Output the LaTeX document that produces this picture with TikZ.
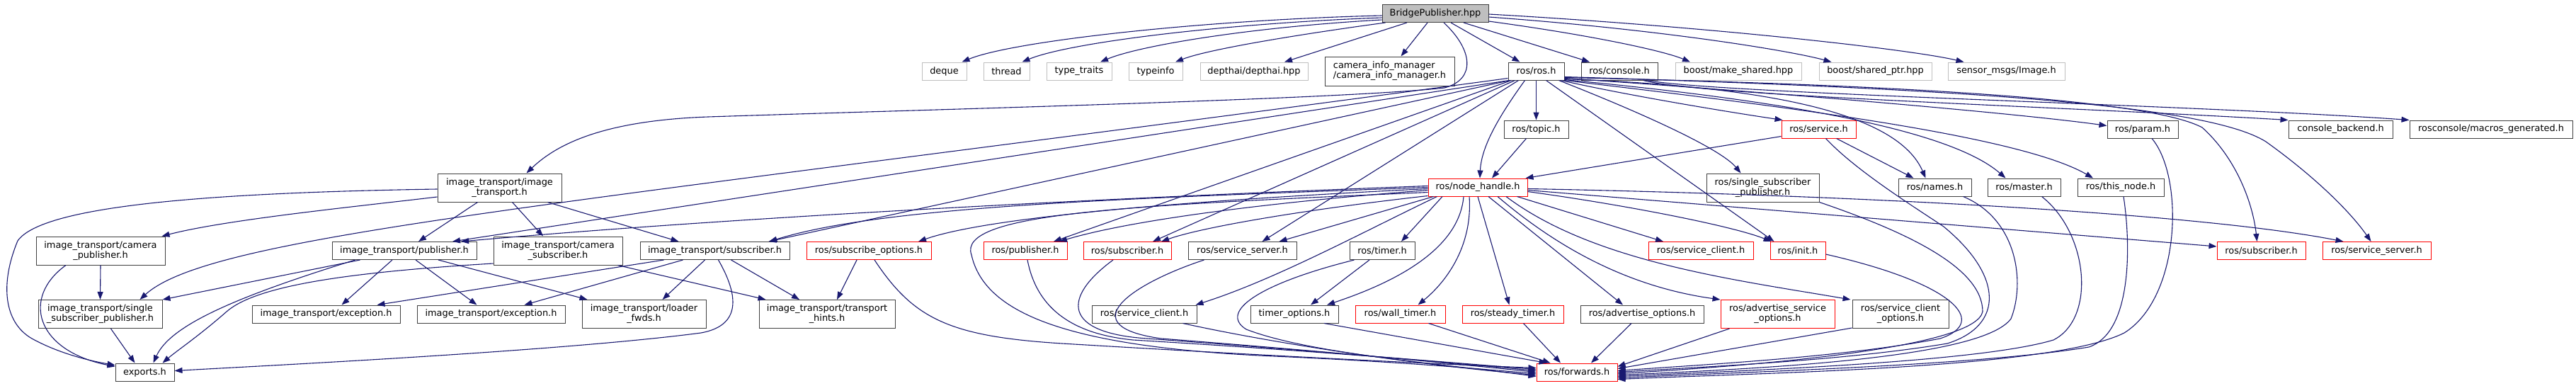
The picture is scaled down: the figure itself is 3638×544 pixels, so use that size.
\documentclass[tikz,border=0pt]{standalone}
\usepackage{fontspec}
\setmainfont{DejaVu Sans}
\usetikzlibrary{arrows.meta,calc}
\definecolor{edgeblue}{HTML}{191970}
\definecolor{boxgrey}{HTML}{BFBFBF}
\definecolor{boxdark}{HTML}{404040}
\tikzset{
  nb/.style={draw=boxdark, line width=1pt, fill=white, inner sep=0pt, minimum height=25pt,
             font=\fontsize{12.9pt}{14pt}\selectfont, align=center, text=black},
  nbtwo/.style={minimum height=40pt},
  nbg/.style={draw=boxgrey},
  nbr/.style={draw=red},
  edg/.style={draw=edgeblue, line width=1.1pt, -{Triangle[length=11pt,width=8pt]}},
}
\begin{document}
\begin{tikzpicture}[x=1pt,y=-1pt]
\useasboundingbox (0,0) rectangle (3638,544);
% row 0
\node[nb,fill=boxgrey,minimum width=150pt] (bp) at (2027,19) {BridgePublisher.hpp};
% row 1
\node[nb,nbg,minimum width=63pt] (deque) at (1333.5,100.5) {deque};
\node[nb,nbg,minimum width=65pt] (thread) at (1421.5,100.5) {thread};
\node[nb,nbg,minimum width=92pt] (ttraits) at (1524,100.5) {type\_traits};
\node[nb,nbg,minimum width=76pt] (tinfo) at (1632,100.5) {typeinfo};
\node[nb,nbg,minimum width=152pt] (depthai) at (1771,100.5) {depthai/depthai.hpp};
\node[nb,minimum width=183pt,minimum height=41pt,align=left] (cim) at (1962.5,100.5) {camera\_info\_manager\\/camera\_info\_manager.h};
\node[nb,minimum width=79pt] (rosh) at (2169.5,100.5) {ros/ros.h};
\node[nb,minimum width=108pt] (console) at (2287,100.5) {ros/console.h};
\node[nb,nbg,minimum width=178pt] (mkshared) at (2455,100.5) {boost/make\_shared.hpp};
\node[nb,nbg,minimum width=159pt] (shptr) at (2648.5,100.5) {boost/shared\_ptr.hpp};
\node[nb,nbg,minimum width=165pt] (sensor) at (2833.5,100.5) {sensor\_msgs/Image.h};
% row 2
\node[nb,minimum width=91pt] (topic) at (2169.5,182.5) {ros/topic.h};
\node[nb,nbr,minimum width=105pt] (service) at (2568.5,182.5) {ros/service.h};
\node[nb,minimum width=100pt] (param) at (3026,182.5) {ros/param.h};
\node[nb,minimum width=147pt] (cbackend) at (3305.5,182.5) {console\_backend.h};
\node[nb,minimum width=230pt] (macros) at (3518,182.5) {rosconsole/macros\_generated.h};
% row 3
\node[nb,nbtwo,minimum width=175pt] (it) at (705.5,265) {image\_transport/image\\\_transport.h};
\node[nb,nbr,minimum width=140pt] (nh) at (2087,264.5) {ros/node\_handle.h};
\node[nb,nbtwo,minimum width=159pt] (rssp) at (2489.5,265) {ros/single\_subscriber\\\_publisher.h};
\node[nb,minimum width=103pt] (names) at (2732.5,264.5) {ros/names.h};
\node[nb,minimum width=103pt] (master) at (2858.5,264.5) {ros/master.h};
\node[nb,minimum width=122pt] (thisnode) at (2995,264.5) {ros/this\_node.h};
% row 4
\node[nb,nbtwo,minimum width=182pt] (campub) at (142,354) {image\_transport/camera\\\_publisher.h};
\node[nb,minimum width=204pt] (itpub) at (571,354) {image\_transport/publisher.h};
\node[nb,nbtwo,minimum width=182pt] (camsub) at (788,354) {image\_transport/camera\\\_subscriber.h};
\node[nb,minimum width=211pt] (itsub) at (1009.5,354) {image\_transport/subscriber.h};
\node[nb,nbr,minimum width=176pt] (subopt) at (1227,354) {ros/subscribe\_options.h};
\node[nb,nbr,minimum width=118pt] (rpub) at (1448,354) {ros/publisher.h};
\node[nb,nbr,minimum width=124pt] (subl) at (1592,354) {ros/subscriber.h};
\node[nb,minimum width=153pt] (ssl) at (1754.5,354) {ros/service\_server.h};
\node[nb,minimum width=92pt] (timer) at (1952,354) {ros/timer.h};
\node[nb,nbr,minimum width=148pt] (scr) at (2402,354) {ros/service\_client.h};
\node[nb,nbr,minimum width=78pt] (init) at (2539,354) {ros/init.h};
\node[nb,nbr,minimum width=125pt] (subr) at (3193.5,354) {ros/subscriber.h};
\node[nb,nbr,minimum width=153pt] (ssr) at (3356.5,354) {ros/service\_server.h};
% row 5
\node[nb,nbtwo,minimum width=175pt] (itssp) at (141.5,443.5) {image\_transport/single\\\_subscriber\_publisher.h};
\node[nb,minimum width=209pt] (exc1) at (460.5,443.5) {image\_transport/exception.h};
\node[nb,minimum width=209pt] (exc2) at (693.5,443.5) {image\_transport/exception.h};
\node[nb,nbtwo,minimum width=175pt] (loader) at (909.5,443.5) {image\_transport/loader\\\_fwds.h};
\node[nb,nbtwo,minimum width=192pt] (hints) at (1168,443.5) {image\_transport/transport\\\_hints.h};
\node[nb,minimum width=148pt] (scl) at (1616,443.5) {ros/service\_client.h};
\node[nb,minimum width=124pt] (topt) at (1828,443.5) {timer\_options.h};
\node[nb,nbr,minimum width=127pt] (wall) at (1977.5,443.5) {ros/wall\_timer.h};
\node[nb,nbr,minimum width=143pt] (steady) at (2136.5,443.5) {ros/steady\_timer.h};
\node[nb,minimum width=174pt] (advopt) at (2319,443.5) {ros/advertise\_options.h};
\node[nb,nbr,nbtwo,minimum width=161pt] (advsopt) at (2510.5,443.5) {ros/advertise\_service\\\_options.h};
\node[nb,nbtwo,minimum width=136pt] (scopt) at (2684,443.5) {ros/service\_client\\\_options.h};
% row 6
\node[nb,minimum width=83pt] (exports) at (204.5,525.5) {exports.h};
\node[nb,nbr,minimum width=114pt] (forwards) at (2227,525.5) {ros/forwards.h};

% ---------- edges from BridgePublisher.hpp
\draw[edg] ($(bp.west)+(0,3)$) .. controls (1700,28) and (1430,58) .. ($(deque.north)+(25,0)$);
\draw[edg] ($(bp.west)+(0,6)$) .. controls (1730,33) and (1510,60) .. ($(thread.north)+(22,0)$);
\draw[edg] ($(bp.west)+(0,9)$) .. controls (1770,38) and (1610,64) .. ($(ttraits.north)+(30,0)$);
\draw[edg] ($(bp.south west)+(5,0)$) .. controls (1860,45) and (1710,68) .. ($(tinfo.north)+(28,0)$);
\draw[edg] ($(bp.south)+(-40,0)$) -- ($(depthai.north)+(43,0)$);
\draw[edg] ($(bp.south)+(-11,0)$) -- ($(cim.north)+(16,0)$);
\draw[edg] ($(bp.south)+(12,0)$) .. controls (2080,70) and (2085,112) .. (2040,124) .. controls (1900,140) and (1300,155) .. (1000,165) .. controls (860,170) and (790,200) .. ($(it.north)+(38,0)$);
\draw[edg] ($(bp.south)+(22,0)$) -- ($(rosh.north)+(-23,0)$);
\draw[edg] ($(bp.south)+(40,0)$) -- ($(console.north)+(-42,0)$);
\draw[edg] ($(bp.south east)+(0,-2)$) .. controls (2250,50) and (2350,72) .. ($(mkshared.north)+(-68,0)$);
\draw[edg] ($(bp.east)+(0,5)$) .. controls (2350,42) and (2530,72) .. ($(shptr.north)+(-62,0)$);
\draw[edg] ($(bp.east)+(0,1)$) .. controls (2420,38) and (2700,70) .. ($(sensor.north)+(-60,0)$);
% ---------- edges from ros/ros.h
\draw[edg] (rosh.south) -- (topic.north);
\draw[edg] ($(rosh.south)+(-16,0)$) .. controls (2120,160) and (2092,205) .. ($(nh.north)+(3,0)$);
\draw[edg] ($(topic.south)+(-14,0)$) -- ($(nh.north)+(20,0)$);
\draw[edg] ($(service.west)+(0,10)$) -- ($(nh.north east)+(-3,0)$);
\draw[edg] ($(rosh.south east)+(-5,0)$) .. controls (2300,135) and (2440,158) .. ($(service.north west)+(2,0)$);
\draw[edg] ($(rosh.south east)+(-8,0)$) .. controls (2320,160) and (2430,210) .. ($(rssp.north)+(-31,0)$);
\draw[edg] ($(rosh.south east)+(0,-2)$) .. controls (2500,122) and (2680,160) .. ($(names.north)+(-13,0)$);
\draw[edg] ($(service.south)+(25,0)$) -- ($(names.north)+(-30,0)$);
\draw[edg] ($(rosh.south east)+(0,-1)$) .. controls (2500,140) and (2750,180) .. ($(master.north)+(-26,0)$);
\draw[edg] (rosh.south east) .. controls (2500,148) and (2850,190) .. ($(thisnode.north)+(-39,0)$);
\draw[edg] ($(rosh.south east)+(0,-3)$) .. controls (2500,130) and (2850,160) .. ($(param.west)+(0,-5)$);
\draw[edg] ($(rosh.south east)+(0,-4)$) .. controls (2800,122) and (3050,148) .. (3110,180) .. controls (3160,225) and (3182,290) .. ($(subr.north)+(-6,0)$);
\draw[edg] ($(rosh.south east)+(0,-5)$) .. controls (2800,126) and (3120,150) .. (3200,200) .. controls (3270,250) and (3320,300) .. ($(ssr.north)+(-8,0)$);
\draw[edg] ($(console.south)+(34,0)$) .. controls (2400,135) and (2900,150) .. (cbackend.north west);
\draw[edg] ($(console.south)+(40,0)$) .. controls (2420,132) and (3100,148) .. (macros.north west);
\draw[edg] ($(rosh.south)+(14,0)$) -- ($(init.north west)+(6,0)$);
\draw[edg] ($(rosh.south west)+(5,0)$) -- ($(rpub.north)+(40,0)$);
\draw[edg] ($(rosh.south west)+(10,0)$) -- ($(subl.north)+(36,0)$);
\draw[edg] ($(rosh.south west)+(15,0)$) -- ($(ssl.north)+(28,0)$);
\draw[edg] ($(rosh.south west)+(0,-3)$) .. controls (800,290) and (300,330) .. ($(itssp.north)+(56,0)$);
\draw[edg] ($(rosh.south west)+(2,0)$) -- ($(itpub.north)+(68,0)$);
\draw[edg] ($(rosh.south west)+(3,0)$) -- ($(itsub.north)+(76,0)$);
% ---------- image_transport
\draw[edg] ($(it.west)+(0,13)$) .. controls (500,292) and (320,310) .. ($(campub.north east)+(-5,0)$);
\draw[edg] ($(it.south)+(-31,0)$) -- ($(itpub.north)+(20,0)$);
\draw[edg] ($(it.south)+(18,0)$) -- ($(camsub.north)+(-21,0)$);
\draw[edg] ($(it.south)+(68,0)$) -- ($(itsub.north)+(-51,0)$);
\draw[edg] ($(it.west)+(0,2)$) .. controls (300,272) and (60,290) .. (25,340) .. controls (0,400) and (5,455) .. (45,478) .. controls (85,500) and (130,510) .. ($(exports.north west)+(0,3)$);
\draw[edg] (campub.south) -- (itssp.north);
\draw[edg] ($(campub.south)+(-49,0)$) .. controls (30,420) and (50,495) .. ($(exports.north west)+(0,5)$);
\draw[edg] ($(itssp.south)+(15,0)$) -- ($(exports.north)+(-14,0)$);
\draw[edg] ($(itpub.south west)+(40,0)$) -- (itssp.north east);
\draw[edg] ($(itpub.south west)+(33,0)$) .. controls (330,420) and (240,460) .. ($(exports.north)+(12,0)$);
\draw[edg] ($(itpub.south)+(-17,0)$) -- ($(exc1.north)+(22,0)$);
\draw[edg] ($(itpub.south)+(16,0)$) -- ($(exc2.north)+(-20,0)$);
\draw[edg] ($(itpub.south)+(48,0)$) -- ($(loader.north)+(-80,0)$);
\draw[edg] ($(camsub.west)+(0,18)$) .. controls (480,385) and (360,405) .. (320,440) .. controls (280,475) and (250,495) .. ($(exports.north)+(25,0)$);
\draw[edg] ($(camsub.south east)+(-7,0)$) -- ($(hints.north west)+(10,0)$);
\draw[edg] ($(itsub.south west)+(34,0)$) -- ($(exc1.north)+(72,0)$);
\draw[edg] ($(itsub.south)+(-45,0)$) -- ($(exc2.north)+(47,0)$);
\draw[edg] ($(itsub.south)+(-14,0)$) -- ($(loader.north)+(26,0)$);
\draw[edg] ($(itsub.south)+(23,0)$) -- ($(hints.north)+(-39,0)$);
\draw[edg] ($(itsub.south)+(5,0)$) .. controls (1045,420) and (1045,460) .. (990,470) .. controls (800,495) and (400,515) .. ($(exports.east)+(0,-2)$);
\draw[edg] ($(subopt.south)+(-17,0)$) -- ($(hints.north)+(14,0)$);
% ---------- into ros/forwards.h from the left
\draw[edg] ($(subopt.south)+(8,0)$) .. controls (1290,450) and (1340,475) .. (1500,485) .. controls (1800,503) and (2050,515) .. ($(forwards.west)+(0,-6)$);
\draw[edg] ($(rpub.south)+(3,0)$) .. controls (1465,440) and (1520,472) .. (1600,480) .. controls (1850,495) and (2050,512) .. ($(forwards.west)+(0,-4)$);
\draw[edg] ($(subl.south)+(-20,0)$) .. controls (1500,420) and (1500,470) .. (1620,478) .. controls (1850,495) and (2050,512) .. ($(forwards.west)+(0,-2)$);
\draw[edg] ($(ssl.south)+(-54,0)$) .. controls (1600,400) and (1510,460) .. (1640,478) .. controls (1860,495) and (2050,513) .. (forwards.west);
\draw[edg] ($(nh.west)+(0,7)$) .. controls (1600,290) and (1350,300) .. (1372,360) .. controls (1390,440) and (1500,490) .. (1800,503) .. controls (2000,512) and (2100,522) .. ($(forwards.west)+(0,2)$);
\draw[edg] ($(scl.south east)+(-20,0)$) .. controls (1800,485) and (2000,515) .. ($(forwards.west)+(0,4)$);
\draw[edg] ($(timer.south)+(-18,0)$) -- ($(topt.north)+(23,0)$);
\draw[edg] ($(timer.south west)+(7,0)$) .. controls (1780,400) and (1720,440) .. (1760,465) .. controls (1850,500) and (2050,515) .. ($(forwards.west)+(0,6)$);
\draw[edg] ($(nh.south west)+(13,0)$) .. controls (1920,330) and (1800,395) .. ($(scl.north east)+(-2,0)$);
\draw[edg] ($(topt.south)+(42,0)$) -- ($(forwards.north west)+(15,0)$);
\draw[edg] ($(wall.south)+(40,0)$) -- ($(forwards.north west)+(20,0)$);
\draw[edg] ($(steady.south)+(15,0)$) -- ($(forwards.north)+(-23,0)$);
\draw[edg] ($(advopt.south)+(-15,0)$) -- ($(forwards.north)+(20,0)$);
% ---------- into ros/forwards.h from the right
\draw[edg] ($(advsopt.south west)+(13,0)$) -- ($(forwards.east)+(0,-8)$);
\draw[edg] ($(scopt.south west)+(0,-1)$) -- ($(forwards.east)+(0,-5)$);
\draw[edg] ($(init.east)+(0,5)$) .. controls (2760,400) and (2810,455) .. (2740,478) .. controls (2600,505) and (2400,515) .. ($(forwards.east)+(0,-2)$);
\draw[edg] ($(service.south)+(10,0)$) .. controls (2620,240) and (2700,290) .. (2745,320) .. controls (2830,390) and (2830,460) .. (2750,485) .. controls (2600,510) and (2400,518) .. (forwards.east);
\draw[edg] (rssp.south east) .. controls (2700,330) and (2800,380) .. (2800,440) .. controls (2790,490) and (2500,515) .. ($(forwards.east)+(0,2)$);
\draw[edg] ($(names.south)+(40,0)$) .. controls (2850,310) and (2860,400) .. (2840,450) .. controls (2800,505) and (2500,520) .. ($(forwards.east)+(0,4)$);
\draw[edg] ($(master.south)+(25,0)$) .. controls (2950,330) and (2960,450) .. (2900,480) .. controls (2800,510) and (2500,522) .. ($(forwards.east)+(0,6)$);
\draw[edg] ($(thisnode.south)+(4,0)$) .. controls (3010,350) and (3010,470) .. (2950,490) .. controls (2800,515) and (2500,524) .. ($(forwards.east)+(0,8)$);
\draw[edg] ($(param.south)+(13,0)$) .. controls (3085,250) and (3080,420) .. (3000,470) .. controls (2900,520) and (2500,526) .. ($(forwards.east)+(0,10)$);
% ---------- from ros/node_handle.h
\draw[edg] ($(nh.west)+(0,-2)$) .. controls (1500,282) and (1000,310) .. ($(itpub.north)+(80,0)$);
\draw[edg] (nh.west) .. controls (1600,280) and (1250,290) .. ($(itsub.north)+(77,0)$);
\draw[edg] ($(nh.west)+(0,2)$) .. controls (1700,282) and (1400,305) .. ($(subopt.north)+(70,0)$);
\draw[edg] ($(nh.west)+(0,4)$) .. controls (1800,285) and (1600,310) .. ($(rpub.north)+(48,0)$);
\draw[edg] ($(nh.south west)+(0,-1)$) .. controls (1850,295) and (1700,320) .. ($(subl.north)+(48,0)$);
\draw[edg] ($(nh.south west)+(8,0)$) -- ($(ssl.north)+(52,0)$);
\draw[edg] ($(nh.south)+(-50,0)$) -- ($(timer.north)+(27,0)$);
\draw[edg] ($(nh.south)+(-20,0)$) .. controls (2060,360) and (1950,405) .. ($(topt.north)+(46,0)$);
\draw[edg] ($(nh.south)+(-12,0)$) .. controls (2080,350) and (2040,400) .. ($(wall.north)+(25,0)$);
\draw[edg] (nh.south) -- ($(steady.north)+(-5,0)$);
\draw[edg] ($(nh.south)+(15,0)$) -- ($(advopt.north)+(-27,0)$);
\draw[edg] ($(nh.south)+(28,0)$) .. controls (2200,350) and (2300,405) .. (advsopt.north west);
\draw[edg] ($(nh.south)+(40,0)$) .. controls (2250,370) and (2450,395) .. ($(scopt.north west)+(-2,0)$);
\draw[edg] ($(nh.south east)+(-15,0)$) -- ($(scr.north)+(-53,0)$);
\draw[edg] ($(nh.east)+(0,6)$) .. controls (2300,290) and (2450,320) .. ($(init.north west)+(2,0)$);
\draw[edg] ($(nh.east)+(0,4)$) -- ($(subr.west)+(0,-6)$);
\draw[edg] ($(nh.east)+(0,2)$) .. controls (2600,275) and (3100,300) .. ($(ssr.north)+(-47,0)$);
\end{tikzpicture}
\end{document}
